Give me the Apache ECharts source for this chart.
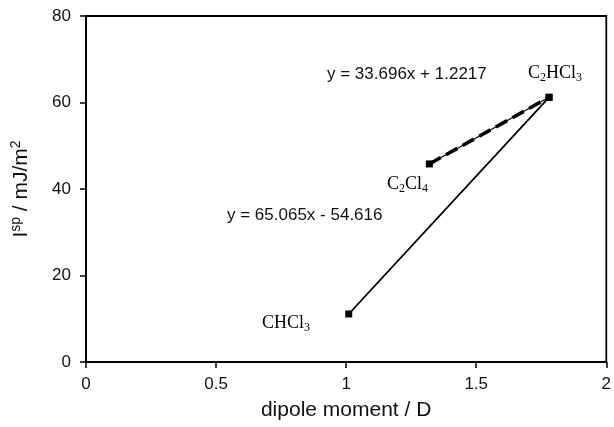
<!DOCTYPE html>
<html>
<head>
<meta charset="utf-8">
<script src="https://cdn.jsdelivr.net/npm/echarts@6/dist/echarts.min.js"></script>
<style>
  html, body { margin: 0; padding: 0; background: #fff; }
  #chart { width: 614px; height: 427px; }
</style>
</head>
<body>
<div id="chart"></div>
<script>
// dipole moment (D) vs I^sp (mJ/m2)
const compounds = ['CHCl3', 'C2HCl3', 'C2Cl4'];
const dipole = [1.01, 1.78, 1.32];
const isp = [11.1, 61.2, 45.8];

const solidPair = [0, 1];   // CHCl3 -> C2HCl3
const dashedPair = [2, 1];  // C2Cl4 -> C2HCl3

const xTicks = [0, 0.5, 1, 1.5, 2];
const yTicks = [0, 20, 40, 60, 80];

const pts = pair => pair.map(i => [dipole[i], isp[i]]);

const sans = 'Liberation Sans, Arial, sans-serif';
const serif = 'Liberation Serif, Times New Roman, serif';

const element = document.getElementById('chart');
const chart = echarts.init(element, null, { renderer: 'canvas' });

const chemRich = {
  n: { fontFamily: serif, fontSize: 18, color: '#222' },
  s: { fontFamily: serif, fontSize: 12, color: '#222', padding: [9, 0, 0, 0] }
};

let option = {
  backgroundColor: '#fff',
  animation: false,
  grid: { left: 86, right: 7, top: 16, bottom: 65, show: true, borderColor: '#000', borderWidth: 1.8 },
  xAxis: {
    type: 'value',
    min: xTicks[0],
    max: xTicks[xTicks.length - 1],
    interval: 0.5,
    name: 'dipole moment / D',
    nameLocation: 'middle',
    nameGap: 38,
    nameTextStyle: { fontFamily: sans, fontSize: 21, color: '#111' },
    axisLine: { lineStyle: { color: '#000', width: 1.8 } },
    axisTick: { length: 6, lineStyle: { color: '#000', width: 1.5 } },
    axisLabel: { fontFamily: sans, fontSize: 17, color: '#111', margin: 14 },
    splitLine: { show: false }
  },
  yAxis: {
    type: 'value',
    min: yTicks[0],
    max: yTicks[yTicks.length - 1],
    interval: 20,
    name: '{n|I}{s|sp}{n| / mJ/m}{s|2}',
    nameLocation: 'middle',
    nameGap: 52,
    nameTextStyle: {
      rich: {
        n: { fontFamily: sans, fontSize: 21, color: '#111' },
        s: { fontFamily: sans, fontSize: 14, color: '#111', padding: [0, 0, 11, 0] }
      }
    },
    axisLine: { lineStyle: { color: '#000', width: 1.8 } },
    axisTick: { length: 6, lineStyle: { color: '#000', width: 1.5 } },
    axisLabel: { fontFamily: sans, fontSize: 17, color: '#111', margin: 15 },
    splitLine: { show: false }
  },
  series: [
    {
      type: 'line',
      data: pts(solidPair),
      symbol: 'rect',
      symbolSize: 7,
      lineStyle: { color: '#000', width: 1.8 },
      itemStyle: { color: '#000' },
      z: 3
    },
    {
      type: 'line',
      data: pts(dashedPair),
      symbol: 'rect',
      symbolSize: 7,
      lineStyle: { color: '#000', width: 1.2 },
      itemStyle: { color: '#000' },
      z: 3
    },
    {
      type: 'line',
      data: pts(dashedPair),
      symbol: 'none',
      lineStyle: { color: '#000', width: 3.5, type: [13, 6] },
      z: 4
    }
  ],
  graphic: [
    { type: 'text', x: 327, y: 74, style: { text: 'y = 33.696x + 1.2217', font: '17px ' + sans, fill: '#111', verticalAlign: 'middle' } },
    { type: 'text', x: 227, y: 215, style: { text: 'y = 65.065x - 54.616', font: '17px ' + sans, fill: '#111', verticalAlign: 'middle' } },
    { type: 'text', x: 528, y: 73, style: { text: '{n|C}{s|2}{n|HCl}{s|3}', rich: chemRich, verticalAlign: 'middle' } },
    { type: 'text', x: 387, y: 184, style: { text: '{n|C}{s|2}{n|Cl}{s|4}', rich: chemRich, verticalAlign: 'middle' } },
    { type: 'text', x: 262, y: 323, style: { text: '{n|CHCl}{s|3}', rich: chemRich, verticalAlign: 'middle' } }
  ]
};

chart.setOption(option);
</script>
</body>
</html>
